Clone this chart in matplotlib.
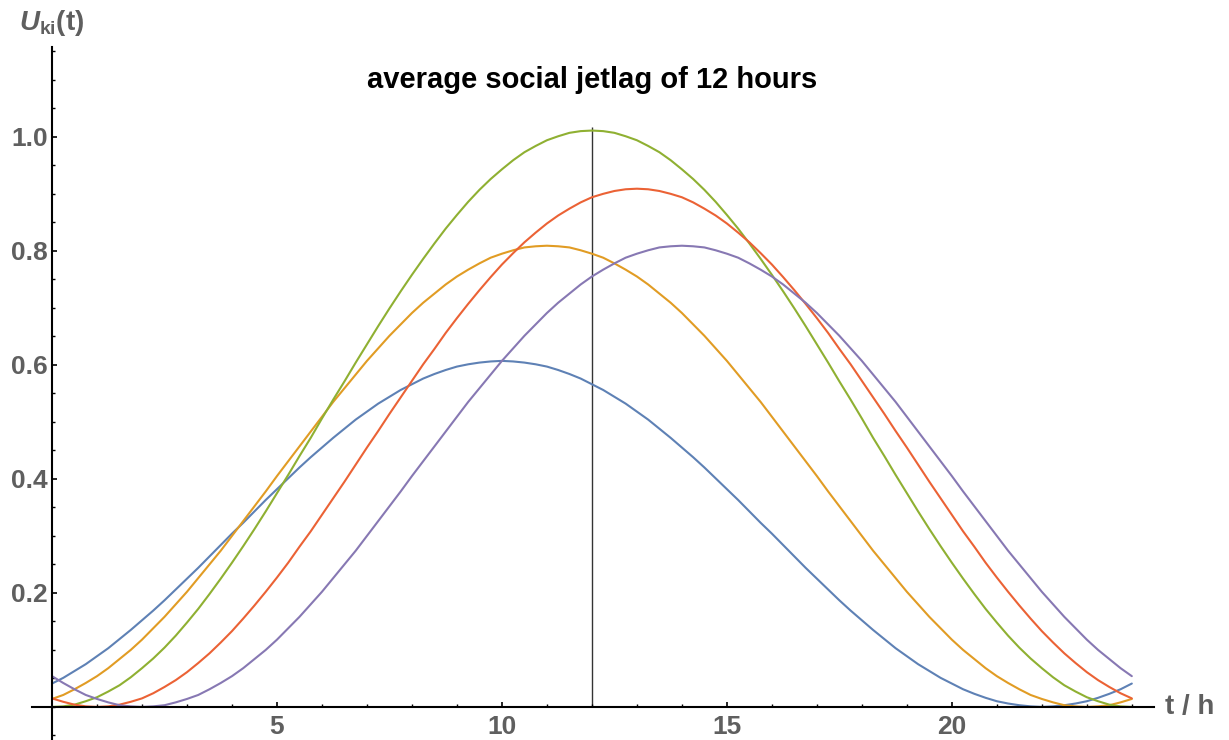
import numpy as np
import matplotlib.pyplot as plt

plt.rcParams['font.family'] = ['Liberation Sans', 'DejaVu Sans']
plt.rcParams['mathtext.fontset'] = 'custom'
plt.rcParams['mathtext.rm'] = 'Liberation Sans:bold'
plt.rcParams['mathtext.it'] = 'Liberation Sans:italic:bold'

# time of day in hours, sampled every quarter hour
hours = np.arange(0, 24.25, 0.25)

# U_ki(t) for the five chronotypes
u_blue = [0.041, 0.051, 0.063, 0.075, 0.089, 0.103, 0.119, 0.135, 0.152, 0.169,
          0.187, 0.206, 0.225, 0.244, 0.264, 0.284, 0.304, 0.323, 0.343, 0.363,
          0.382, 0.401, 0.420, 0.438, 0.455, 0.472, 0.488, 0.504, 0.518, 0.532,
          0.544, 0.556, 0.566, 0.576, 0.584, 0.591, 0.597, 0.601, 0.604, 0.606,
          0.607, 0.606, 0.604, 0.601, 0.597, 0.591, 0.584, 0.576, 0.566, 0.556,
          0.544, 0.532, 0.518, 0.504, 0.488, 0.472, 0.455, 0.438, 0.420, 0.401,
          0.382, 0.363, 0.343, 0.323, 0.304, 0.284, 0.264, 0.244, 0.225, 0.206,
          0.187, 0.169, 0.152, 0.135, 0.119, 0.103, 0.089, 0.075, 0.063, 0.051,
          0.041, 0.031, 0.023, 0.016, 0.010, 0.006, 0.003, 0.001, 0.000, 0.001,
          0.003, 0.006, 0.010, 0.016, 0.023, 0.031, 0.041]
u_orange = [0.014, 0.021, 0.031, 0.042, 0.054, 0.068, 0.084, 0.100, 0.118, 0.138,
            0.158, 0.180, 0.202, 0.226, 0.250, 0.274, 0.300, 0.326, 0.352, 0.378,
            0.405, 0.431, 0.457, 0.483, 0.509, 0.535, 0.559, 0.583, 0.607, 0.629,
            0.651, 0.671, 0.691, 0.709, 0.725, 0.741, 0.755, 0.767, 0.778, 0.788,
            0.795, 0.801, 0.806, 0.808, 0.809, 0.808, 0.806, 0.801, 0.795, 0.788,
            0.778, 0.767, 0.755, 0.741, 0.725, 0.709, 0.691, 0.671, 0.651, 0.629,
            0.607, 0.583, 0.559, 0.535, 0.509, 0.483, 0.457, 0.431, 0.405, 0.378,
            0.352, 0.326, 0.300, 0.274, 0.250, 0.226, 0.202, 0.180, 0.158, 0.138,
            0.118, 0.100, 0.084, 0.068, 0.054, 0.042, 0.031, 0.021, 0.014, 0.008,
            0.003, 0.001, 0.000, 0.001, 0.003, 0.008, 0.014]
u_green = [0.000, 0.001, 0.004, 0.010, 0.017, 0.027, 0.038, 0.052, 0.068, 0.085,
           0.104, 0.125, 0.148, 0.172, 0.198, 0.225, 0.253, 0.282, 0.312, 0.343,
           0.375, 0.407, 0.440, 0.472, 0.506, 0.539, 0.571, 0.604, 0.636, 0.668,
           0.699, 0.729, 0.758, 0.786, 0.813, 0.839, 0.863, 0.886, 0.907, 0.926,
           0.943, 0.959, 0.973, 0.984, 0.994, 1.001, 1.007, 1.010, 1.011, 1.010,
           1.007, 1.001, 0.994, 0.984, 0.973, 0.959, 0.943, 0.926, 0.907, 0.886,
           0.863, 0.839, 0.813, 0.786, 0.758, 0.729, 0.699, 0.668, 0.636, 0.604,
           0.571, 0.539, 0.506, 0.472, 0.440, 0.407, 0.375, 0.343, 0.312, 0.282,
           0.253, 0.225, 0.198, 0.172, 0.148, 0.125, 0.104, 0.085, 0.068, 0.052,
           0.038, 0.027, 0.017, 0.010, 0.004, 0.001, 0.000]
u_red = [0.015, 0.009, 0.004, 0.001, 0.000, 0.001, 0.004, 0.009, 0.015, 0.024,
         0.035, 0.047, 0.061, 0.077, 0.094, 0.113, 0.133, 0.155, 0.178, 0.202,
         0.227, 0.253, 0.281, 0.308, 0.337, 0.366, 0.395, 0.425, 0.455, 0.484,
         0.514, 0.543, 0.572, 0.601, 0.628, 0.656, 0.682, 0.707, 0.731, 0.754,
         0.776, 0.796, 0.815, 0.832, 0.848, 0.862, 0.874, 0.885, 0.894, 0.900,
         0.905, 0.908, 0.909, 0.908, 0.905, 0.900, 0.894, 0.885, 0.874, 0.862,
         0.848, 0.832, 0.815, 0.796, 0.776, 0.754, 0.731, 0.707, 0.682, 0.656,
         0.628, 0.601, 0.572, 0.543, 0.514, 0.484, 0.455, 0.425, 0.395, 0.366,
         0.337, 0.308, 0.281, 0.253, 0.227, 0.202, 0.178, 0.155, 0.133, 0.113,
         0.094, 0.077, 0.061, 0.047, 0.035, 0.024, 0.015]
u_purple = [0.054, 0.042, 0.031, 0.021, 0.014, 0.008, 0.003, 0.001, 0.000, 0.001,
            0.003, 0.008, 0.014, 0.021, 0.031, 0.042, 0.054, 0.068, 0.084, 0.100,
            0.118, 0.138, 0.158, 0.180, 0.202, 0.226, 0.250, 0.274, 0.300, 0.326,
            0.352, 0.378, 0.405, 0.431, 0.457, 0.483, 0.509, 0.535, 0.559, 0.583,
            0.607, 0.629, 0.651, 0.671, 0.691, 0.709, 0.725, 0.741, 0.755, 0.767,
            0.778, 0.788, 0.795, 0.801, 0.806, 0.808, 0.809, 0.808, 0.806, 0.801,
            0.795, 0.788, 0.778, 0.767, 0.755, 0.741, 0.725, 0.709, 0.691, 0.671,
            0.651, 0.629, 0.607, 0.583, 0.559, 0.535, 0.509, 0.483, 0.457, 0.431,
            0.405, 0.378, 0.352, 0.326, 0.300, 0.274, 0.250, 0.226, 0.202, 0.180,
            0.158, 0.138, 0.118, 0.100, 0.084, 0.068, 0.054]

series = [u_blue, u_orange, u_green, u_red, u_purple]
colors = ['#5E81B5', '#E19C24', '#8FB032', '#EB6235', '#8778B3']

jetlag = 12
marker_top = 1.018

x_major = [5, 10, 15, 20]
y_major = [0.2, 0.4, 0.6, 0.8, 1.0]

label_gray = '#5f5f5f'

fig = plt.figure(figsize=(12.29, 7.40), dpi=100)
ax = fig.add_axes([0, 0, 1, 1])

for vals, c in zip(series, colors):
    ax.plot(hours, vals, color=c, lw=1.5, solid_capstyle='round',
            solid_joinstyle='round')

ax.vlines(jetlag, 0, marker_top, color='#333333', lw=1.0, zorder=1)

ax.set_xlim(-1.156, 26.16)
ax.set_ylim(-0.058, 1.240)

# axes crossing at the origin
for side in ['top', 'right']:
    ax.spines[side].set_visible(False)
ax.spines['left'].set_position(('data', 0))
ax.spines['bottom'].set_position(('data', 0))
ax.spines['left'].set_bounds(-0.06, 1.157)
ax.spines['bottom'].set_bounds(-0.45, 24.5)
ax.spines['left'].set_linewidth(1.5)
ax.spines['bottom'].set_linewidth(1.5)

ax.set_xticks(x_major)
ax.set_xticklabels([str(v) for v in x_major])
ax.set_xticks(np.arange(1, 25), minor=True)
ax.set_yticks(y_major)
ax.set_yticklabels(['%.1f' % v for v in y_major])
ax.set_yticks(np.arange(-0.05, 1.16, 0.05), minor=True)

ax.tick_params(axis='both', which='major', direction='in', length=3.5, width=1.2,
               labelsize=19, labelcolor=label_gray)
ax.tick_params(axis='both', which='minor', direction='in', length=2, width=1.0)
ax.tick_params(axis='x', which='major', pad=6)
ax.tick_params(axis='y', which='major', pad=3)
for lab in ax.get_xticklabels() + ax.get_yticklabels():
    lab.set_fontweight('bold')

ax.text(jetlag, 1.10, 'average social jetlag of 12 hours', ha='center', va='center',
        fontsize=21, fontweight='bold', color='black')
ax.text(0, 1.20, r'$U_{\mathrm{ki}}\mathrm{(t)}$', ha='center', va='center',
        fontsize=20, color=label_gray)
ax.text(24.73, 0, 't / h', ha='left', va='center', fontsize=20, fontweight='bold',
        color=label_gray)

fig.savefig('out.png', dpi=100)
